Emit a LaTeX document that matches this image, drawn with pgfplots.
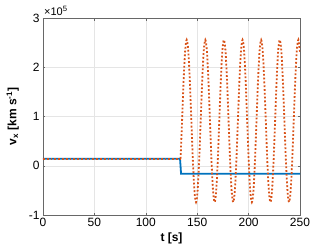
\documentclass[border=0pt]{standalone}
\usepackage{fontspec}
\setmainfont{Liberation Sans}
\usepackage{pgfplots}
\pgfplotsset{compat=1.18}
\definecolor{mblue}{rgb}{0,0.447,0.741}
\definecolor{morange}{rgb}{0.85,0.325,0.098}
\definecolor{maxis}{rgb}{0.15,0.15,0.15}
\begin{document}
\begin{tikzpicture}
\path (-43pt,-34pt) rectangle (289pt,215pt);
\begin{axis}[
  at={(0pt,0pt)}, anchor=south west,
  scale only axis, width=257pt, height=197pt,
  xmin=0, xmax=250, ymin=-1, ymax=3,
  xtick={0,50,100,150,200,250},
  ytick={-1,0,1,2,3},
  grid=major,
  major grid style={gray!20, line width=0.4pt},
  axis line style={maxis!70, line width=0.5pt},
  tick style={maxis!70, line width=0.5pt},
  tick align=inside,
  major tick length=2.5pt,
  xtick pos=both, ytick pos=both,
  tick label style={font=\fontsize{12}{13}\selectfont, text=black},
  /pgf/number format/assume math mode=true,
  xlabel={\textbf{t [s]}},
  ylabel={\textbf{v\textsubscript{x} [km s\textsuperscript{-1}]}},
  label style={font=\fontsize{12}{13}\selectfont},
  xlabel style={yshift=1pt},
  ylabel style={yshift=3pt},
  clip mode=individual,
]
\addplot[mblue, line width=1.8pt] coordinates {
(0,0.142) (133.3,0.142) (134.3,-0.162) (250,-0.162)
};
\addplot[morange, line width=1.8pt, dash pattern=on 1.8pt off 2pt] coordinates {
(0,0.142) (133.8,0.142)
};
\addplot[morange, line width=1.8pt, dash pattern=on 1.8pt off 2pt, smooth] coordinates {
(133.8,0.142) (135.28,0.908) (136.78,1.732) (138.29,2.335)
(139.80,2.556) (141.31,2.335) (142.82,1.732) (144.33,0.908) (145.83,0.084) (147.34,-0.519)
(148.85,-0.740) (150.36,-0.519) (151.87,0.084) (153.38,0.908) (154.88,1.732) (156.39,2.335)
(157.90,2.556) (159.41,2.335) (160.92,1.732) (162.43,0.908) (163.93,0.084) (165.44,-0.519)
(166.95,-0.740) (168.46,-0.519) (169.97,0.084) (171.48,0.908) (172.98,1.732) (174.49,2.335)
(176.00,2.556) (177.51,2.335) (179.02,1.732) (180.53,0.908) (182.03,0.084) (183.54,-0.519)
(185.05,-0.740) (186.56,-0.519) (188.07,0.084) (189.58,0.908) (191.08,1.732) (192.59,2.335)
(194.10,2.556) (195.61,2.335) (197.12,1.732) (198.63,0.908) (200.13,0.084) (201.64,-0.519)
(203.15,-0.740) (204.66,-0.519) (206.17,0.084) (207.68,0.908) (209.18,1.732) (210.69,2.335)
(212.20,2.556) (213.71,2.335) (215.22,1.732) (216.73,0.908) (218.23,0.084) (219.74,-0.519)
(221.25,-0.740) (222.76,-0.519) (224.27,0.084) (225.78,0.908) (227.28,1.732) (228.79,2.335)
(230.30,2.556) (231.81,2.335) (233.32,1.732) (234.83,0.908) (236.33,0.084) (237.84,-0.519)
(239.35,-0.740) (240.86,-0.519) (242.37,0.084) (243.88,0.908) (245.38,1.732) (246.89,2.335)
(248.40,2.556) (250.00,2.309)
};
\end{axis}
\node[anchor=south west, inner sep=0pt, font=\fontsize{11}{12}\selectfont] at (1pt,199pt) {×10\textsuperscript{5}};
\end{tikzpicture}
\end{document}
